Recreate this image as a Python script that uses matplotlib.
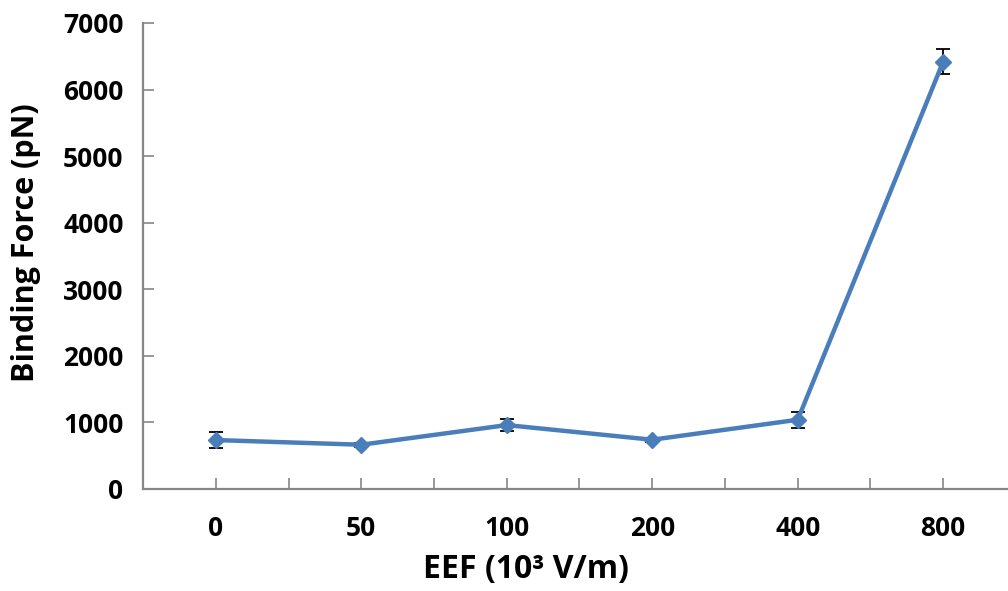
import numpy as np
import matplotlib as mpl
mpl.use('Agg')
import matplotlib.pyplot as plt

# data
eef_labels = ['0', '50', '100', '200', '400', '800']
force = [735, 665, 960, 740, 1040, 6420]
force_err = [115, 30, 85, 30, 120, 190]

lineColor = '#4a7ebb'
axisColor = '#868686'

mpl.rcParams.update({
    "font.family": ["Open Sans", "DejaVu Sans"],
    "font.weight": "bold",
    "font.size": 19,
})

fig = plt.figure(figsize=(10.08, 5.91), dpi=100)
fig.patch.set_facecolor('white')
ax = fig.add_axes([0.1419, 0.1726, 0.866, 0.7885])

x = np.arange(len(eef_labels))
ax.errorbar(x, force, yerr=force_err, color=lineColor, linewidth=3.2,
            marker='D', markersize=8.5, markerfacecolor=lineColor, markeredgecolor=lineColor,
            ecolor='black', elinewidth=1.3, capsize=5, capthick=1.3, zorder=3)

ax.set_xlim(-0.5, 5.5)
ax.set_ylim(0, 7000)
ax.set_yticks(np.arange(0, 7001, 1000))
ax.set_xticks(x)
ax.set_xticklabels(eef_labels, fontweight='bold')
ax.set_xticks(np.arange(-0.5, 5.6, 1.0), minor=True)
for lab in ax.get_yticklabels():
    lab.set_fontweight('bold')

ax.tick_params(axis='y', direction='in', length=8, width=1.2, color=axisColor, pad=14, labelsize=19)
ax.tick_params(axis='x', which='both', direction='in', length=8, width=1.2, color=axisColor, pad=19, labelsize=19)

for side in ['top', 'right']:
    ax.spines[side].set_visible(False)
for side in ['left', 'bottom']:
    ax.spines[side].set_color(axisColor)
    ax.spines[side].set_linewidth(1.6)

ax.set_ylabel('Binding Force (pN)', fontsize=22, fontweight='bold')
ax.set_xlabel('EEF (10³ V/m)', fontsize=23, fontweight='bold')
# Excel put both titles a bit off the plot centre
ax.yaxis.set_label_coords(-0.117, 0.528)
ax.xaxis.set_label_coords(0.439, -0.138)

fig.savefig('out.png', dpi=100)
